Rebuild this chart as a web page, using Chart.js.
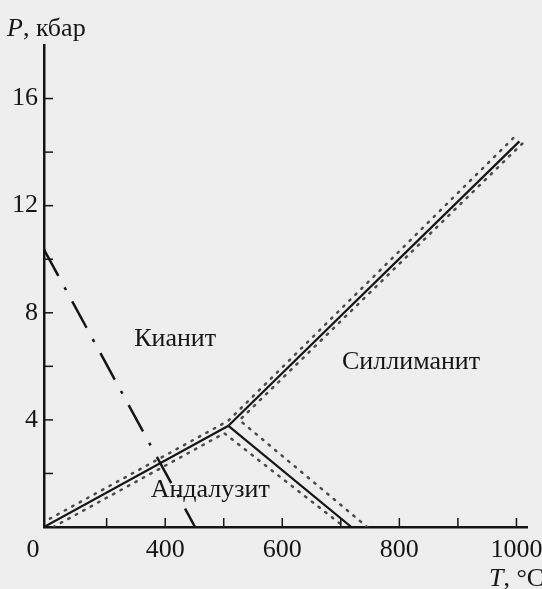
<!DOCTYPE html>
<html>
<head>
<meta charset="utf-8">
<script src="https://cdn.jsdelivr.net/npm/chart.js@4.4.1/dist/chart.umd.min.js"></script>
<style>
  html, body { margin: 0; padding: 0; background: #eeeeee; }
  #wrap { width: 542px; height: 589px; position: relative; }
</style>
</head>
<body>
<div id="wrap"><canvas id="diagram"></canvas></div>
<script>
// фазовая диаграмма Al2SiO5: T (°C) по оси x, P (кбар) по оси y
const kyaniteAndalusite = [[193, 0], [508, 3.78]];
const andalusiteSillimanite = [[508, 3.78], [718, 0]];
const kyaniteSillimanite = [[508, 3.78], [1005, 14.4]];

// пунктирные границы (неопределённость)
const boundUpper = [[203, 0.31], [508, 3.97], [998, 14.6]];
const boundRight = [[1010, 14.32], [527, 3.99], [745, 0]];
const boundLower = [[209, 0], [501, 3.5], [706, 0]];

// штрихпунктир
const dashDotLine = [[193, 10.36], [451, 0]];

const xTicks = [193, 300, 400, 500, 600, 700, 800, 900, 1000];
const xLabels = ['', '', '400', '', '600', '', '800', '', '1000'];
const yTicks = [2, 4, 6, 8, 10, 12, 14, 16];
const yLabels = ['', '4', '', '8', '', '12', '', '16'];

const regionNames = ['Кианит', 'Силлиманит', 'Андалузит'];
const regionT = [417, 820, 477];
const regionP = [7.03, 6.17, 1.38];

const INK = '#151515';
const SERIF = '"Liberation Serif", "DejaVu Serif", serif';
const FS = 26;

function pts(arr) {
  return arr.map(p => ({ x: p[0], y: p[1] }));
}

function solid(arr) {
  return { data: pts(arr), showLine: true, borderColor: INK, borderWidth: 2.2, pointRadius: 0, fill: false };
}
function dotted(arr) {
  return { data: pts(arr), showLine: true, borderColor: '#4a4a4a', borderWidth: 2.5,
           borderDash: [1.5, 7], borderCapStyle: 'round', pointRadius: 0, fill: false };
}

// фон, засечки внутрь, подписи
const decor = {
  id: 'decor',
  beforeDraw(chart) {
    const c = chart.ctx;
    c.save();
    c.fillStyle = '#eeeeee';
    c.fillRect(0, 0, chart.width, chart.height);
    c.restore();
  },
  afterDraw(chart) {
    const c = chart.ctx;
    const xs = chart.scales.x, ys = chart.scales.y;
    const area = chart.chartArea;
    c.save();
    c.strokeStyle = INK;
    c.lineWidth = 1.5;
    xTicks.slice(1).forEach(v => {
      const px = xs.getPixelForValue(v);
      c.beginPath(); c.moveTo(px, area.bottom); c.lineTo(px, area.bottom - 9); c.stroke();
    });
    yTicks.forEach(v => {
      const py = ys.getPixelForValue(v);
      c.beginPath(); c.moveTo(area.left, py); c.lineTo(area.left + 9, py); c.stroke();
    });

    c.fillStyle = INK;
    c.font = FS + 'px ' + SERIF;
    c.textAlign = 'center';
    c.textBaseline = 'middle';
    regionNames.forEach((name, i) => {
      c.fillText(name, xs.getPixelForValue(regionT[i]), ys.getPixelForValue(regionP[i]));
    });

    // "0" у начала координат
    c.fillText('0', area.left - 11, area.bottom + 23);

    // подписи осей
    c.textAlign = 'left';
    c.textBaseline = 'alphabetic';
    c.font = 'italic ' + FS + 'px ' + SERIF;
    c.fillText('P', 7, 36);
    let w = c.measureText('P').width;
    c.font = FS + 'px ' + SERIF;
    c.fillText(', кбар', 7 + w, 36);

    c.font = 'italic ' + FS + 'px ' + SERIF;
    c.fillText('T', 489, 586);
    w = c.measureText('T').width;
    c.font = FS + 'px ' + SERIF;
    c.fillText(', °C', 489 + w, 586);
    c.restore();
  }
};

new Chart(document.getElementById('diagram'), {
  type: 'scatter',
  data: {
    datasets: [
      dotted(boundUpper),
      dotted(boundRight),
      dotted(boundLower),
      solid(kyaniteAndalusite),
      solid(andalusiteSillimanite),
      solid(kyaniteSillimanite),
      { data: pts(dashDotLine), showLine: true, borderColor: INK, borderWidth: 2.5,
        borderDash: [30, 13, 3, 13], pointRadius: 0, fill: false }
    ]
  },
  options: {
    responsive: true,
    maintainAspectRatio: false,
    animation: false,
    layout: { padding: { top: 45, right: 15, bottom: 0, left: 0 } },
    plugins: { legend: { display: false }, tooltip: { enabled: false } },
    scales: {
      x: {
        type: 'linear', min: 193, max: 1018,
        grid: { display: false, drawTicks: false },
        border: { display: true, color: INK, width: 2.5 },
        afterBuildTicks: s => { s.ticks = xTicks.map(v => ({ value: v })); },
        afterFit: s => { s.height = 62; s.paddingLeft = 0; s.paddingRight = 0; },
        ticks: {
          autoSkip: false, maxRotation: 0, padding: 8, color: INK,
          font: { family: SERIF, size: FS },
          callback: (v, i) => xLabels[i]
        }
      },
      y: {
        type: 'linear', min: 0, max: 18,
        grid: { display: false, drawTicks: false },
        border: { display: true, color: INK, width: 2.5 },
        afterBuildTicks: s => { s.ticks = yTicks.map(v => ({ value: v })); },
        afterFit: s => { s.width = 44; s.paddingTop = 0; s.paddingBottom = 0; },
        ticks: {
          autoSkip: false, padding: 6, color: INK,
          font: { family: SERIF, size: FS },
          callback: (v, i) => yLabels[i]
        }
      }
    }
  },
  plugins: [decor]
});
</script>
</body>
</html>
